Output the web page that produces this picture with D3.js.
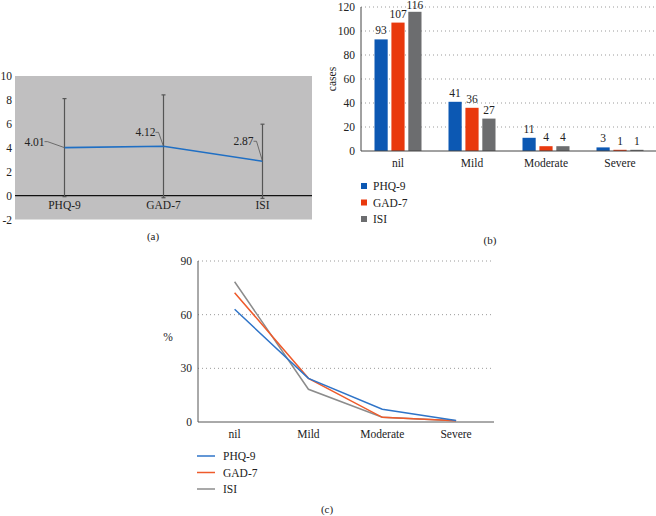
<!DOCTYPE html>
<html><head><meta charset="utf-8">
<script src="https://cdn.jsdelivr.net/npm/d3@7"></script>
<style>body{margin:0;background:#fff}svg{display:block}svg text{font-family:"Liberation Serif","Times New Roman","DejaVu Serif",serif;fill:#222}</style>
</head><body>
<svg id="c" width="656" height="516" font-family="Liberation Serif, Times New Roman, serif"></svg>
<script>
// Panel (a) data
const scales = ["PHQ-9", "GAD-7", "ISI"];
const means = [4.01, 4.12, 2.87];
const sds = [4.1, 4.3, 3.1];
const aTicks = [-2, 0, 2, 4, 6, 8, 10];
// Panel (b) data
const levels = ["nil", "Mild", "Moderate", "Severe"];
const series = ["PHQ-9", "GAD-7", "ISI"];
const phqCases = [93, 41, 11, 3];
const gadCases = [107, 36, 4, 1];
const isiCases = [116, 27, 4, 1];
const bTicks = [0, 20, 40, 60, 80, 100, 120];
// Panel (c) data (percent)
const phqPct = [63.0, 24.4, 7.1, 0.8];
const gadPct = [72.3, 24.4, 2.6, 0.7];
const isiPct = [78.4, 18.3, 2.7, 0.7];
const cTicks = [0, 30, 60, 90];

const barColors = ["#0c58b3", "#e9390e", "#6c6d6f"];
const lineColors = ["#2f74c8", "#ef5b2b", "#8c8c8c"];
const FONT = "Liberation Serif, Times New Roman, serif";

const svg = d3.select("#c");

// ---------- Panel (a) ----------
(function(){
  const x = d3.scaleBand().domain(scales).range([15, 312]);
  const y = d3.scaleLinear().domain([-2, 10]).range([219.5, 76]);
  const g = svg.append("g");
  g.append("rect").attr("x", 15).attr("y", y(10)).attr("width", 297).attr("height", y(-2) - y(10)).attr("fill", "#c0bfc0");
  g.selectAll("text.yt").data(aTicks).join("text").attr("class","yt")
    .attr("x", 12).attr("y", d => y(d)).attr("dy", "0.35em").attr("text-anchor", "end")
    .attr("font-size", 11.5).text(d => d);
  g.append("line").attr("x1", 15).attr("x2", 312).attr("y1", y(0)).attr("y2", y(0)).attr("stroke", "#111").attr("stroke-width", 1.2);
  const cx = d => x(d) + x.bandwidth()/2;
  scales.forEach((s, i) => {
    const lo = means[i] - sds[i], hi = means[i] + sds[i];
    g.append("line").attr("x1", cx(s)).attr("x2", cx(s)).attr("y1", y(lo)).attr("y2", y(hi)).attr("stroke", "#555").attr("stroke-width", 1.2);
    [lo, hi].forEach(v => g.append("line").attr("x1", cx(s)-2).attr("x2", cx(s)+2).attr("y1", y(v)).attr("y2", y(v)).attr("stroke", "#555").attr("stroke-width", 1.2));
  });
  g.append("path").datum(scales.map((s, i) => [cx(s), y(means[i])]))
    .attr("d", d3.line()).attr("fill", "none").attr("stroke", "#1f6fc4").attr("stroke-width", 1.6);
  const offs = [[-17, -6], [-5, -14], [-6, -20]];
  scales.forEach((s, i) => {
    const px = cx(s), py = y(means[i]);
    const [hx, hy] = offs[i];
    g.append("polyline").attr("points", `${px},${py} ${px+hx},${py+hy} ${px+hx-3},${py+hy}`)
      .attr("fill", "none").attr("stroke", "#555").attr("stroke-width", 0.8);
    g.append("text").attr("x", px+hx-3).attr("y", py+hy).attr("dy", "0.35em").attr("text-anchor", "end")
      .attr("font-size", 11.5).text(means[i].toFixed(2));
  });
  g.selectAll("text.xt").data(scales).join("text").attr("class","xt")
    .attr("x", d => cx(d)).attr("y", 209).attr("text-anchor", "middle").attr("font-size", 11.5).text(d => d);
  svg.append("text").attr("x", 153).attr("y", 240).attr("text-anchor", "middle").attr("font-size", 11).text("(a)");
})();

// ---------- Panel (b) ----------
(function(){
  const x = d3.scaleBand().domain(levels).range([361, 657]);
  const xs = d3.scaleBand().domain(series).range([0, 47]).paddingInner(0.22);
  const y = d3.scaleLinear().domain([0, 120]).range([151, 7]);
  const g = svg.append("g");
  g.selectAll("line.grid").data(bTicks.filter(d => d > 0)).join("line").attr("class","grid")
    .attr("x1", 361).attr("x2", 655).attr("y1", d => y(d)).attr("y2", d => y(d))
    .attr("stroke", "#9a9a9a").attr("stroke-dasharray", "1,3").attr("stroke-width", 1);
  g.selectAll("text.yt").data(bTicks).join("text").attr("class","yt")
    .attr("x", 355).attr("y", d => y(d)).attr("dy", "0.35em").attr("text-anchor", "end").attr("font-size", 11.5).text(d => d);
  const data = [phqCases, gadCases, isiCases];
  const off = (x.bandwidth() - 47) / 2;
  series.forEach((s, si) => {
    g.selectAll("rect.s"+si).data(data[si]).join("rect").attr("class","s"+si)
      .attr("x", (d, i) => x(levels[i]) + off + xs(s)).attr("y", d => y(d))
      .attr("width", xs.bandwidth()).attr("height", d => y(0) - y(d)).attr("fill", barColors[si]);
    g.selectAll("text.l"+si).data(data[si]).join("text").attr("class","l"+si)
      .attr("x", (d, i) => x(levels[i]) + off + xs(s) + xs.bandwidth()/2).attr("y", d => Math.max(y(d) - 5, 9))
      .attr("text-anchor", "middle").attr("font-size", 11.5).text(d => d);
  });
  g.append("line").attr("x1", 361).attr("x2", 361).attr("y1", y(120)).attr("y2", y(0)).attr("stroke", "#444").attr("stroke-width", 1);
  g.append("line").attr("x1", 361).attr("x2", 656).attr("y1", y(0)).attr("y2", y(0)).attr("stroke", "#444").attr("stroke-width", 1);
  g.selectAll("text.xt").data(levels).join("text").attr("class","xt")
    .attr("x", d => x(d) + x.bandwidth()/2).attr("y", 167).attr("text-anchor", "middle").attr("font-size", 11.5).text(d => d);
  g.append("text").attr("transform", "translate(336,79) rotate(-90)").attr("text-anchor", "middle").attr("font-size", 11.5).text("cases");
  series.forEach((s, i) => {
    g.append("rect").attr("x", 361).attr("y", 183 + i*16.5).attr("width", 6).attr("height", 6).attr("fill", barColors[i]);
    g.append("text").attr("x", 373).attr("y", 186 + i*16.5).attr("dy", "0.35em").attr("font-size", 11.5).text(s);
  });
  svg.append("text").attr("x", 490).attr("y", 244).attr("text-anchor", "middle").attr("font-size", 11).text("(b)");
})();

// ---------- Panel (c) ----------
(function(){
  const x = d3.scaleBand().domain(levels).range([197.7, 493]);
  const y = d3.scaleLinear().domain([0, 90]).range([422, 261]);
  const g = svg.append("g");
  g.selectAll("line.grid").data(cTicks.filter(d => d > 0)).join("line").attr("class","grid")
    .attr("x1", 198).attr("x2", 494).attr("y1", d => y(d)).attr("y2", d => y(d))
    .attr("stroke", "#9a9a9a").attr("stroke-dasharray", "1,3").attr("stroke-width", 1);
  g.selectAll("text.yt").data(cTicks).join("text").attr("class","yt")
    .attr("x", 192).attr("y", d => y(d)).attr("dy", "0.35em").attr("text-anchor", "end").attr("font-size", 11.5).text(d => d);
  g.append("line").attr("x1", 198).attr("x2", 198).attr("y1", y(90)).attr("y2", y(0)).attr("stroke", "#555");
  g.append("line").attr("x1", 198).attr("x2", 494).attr("y1", y(0)).attr("y2", y(0)).attr("stroke", "#555");
  const data = [phqPct, gadPct, isiPct];
  const line = d3.line().x((d, i) => x(levels[i]) + x.bandwidth()/2).y(d => y(d));
  [2, 1, 0].forEach(si => {
    g.append("path").datum(data[si]).attr("d", line).attr("fill", "none").attr("stroke", lineColors[si]).attr("stroke-width", 1.5);
  });
  g.selectAll("text.xt").data(levels).join("text").attr("class","xt")
    .attr("x", d => x(d) + x.bandwidth()/2).attr("y", 438).attr("text-anchor", "middle").attr("font-size", 11.5).text(d => d);
  g.append("text").attr("x", 168).attr("y", 341).attr("text-anchor", "middle").attr("font-size", 11.5).text("%");
  series.forEach((s, i) => {
    g.append("line").attr("x1", 197).attr("x2", 215).attr("y1", 456 + i*16.5).attr("y2", 456 + i*16.5).attr("stroke", lineColors[i]).attr("stroke-width", 1.5);
    g.append("text").attr("x", 223).attr("y", 456 + i*16.5).attr("dy", "0.35em").attr("font-size", 11.5).text(s);
  });
  svg.append("text").attr("x", 327).attr("y", 513).attr("text-anchor", "middle").attr("font-size", 11).text("(c)");
})();
</script>
</body></html>
